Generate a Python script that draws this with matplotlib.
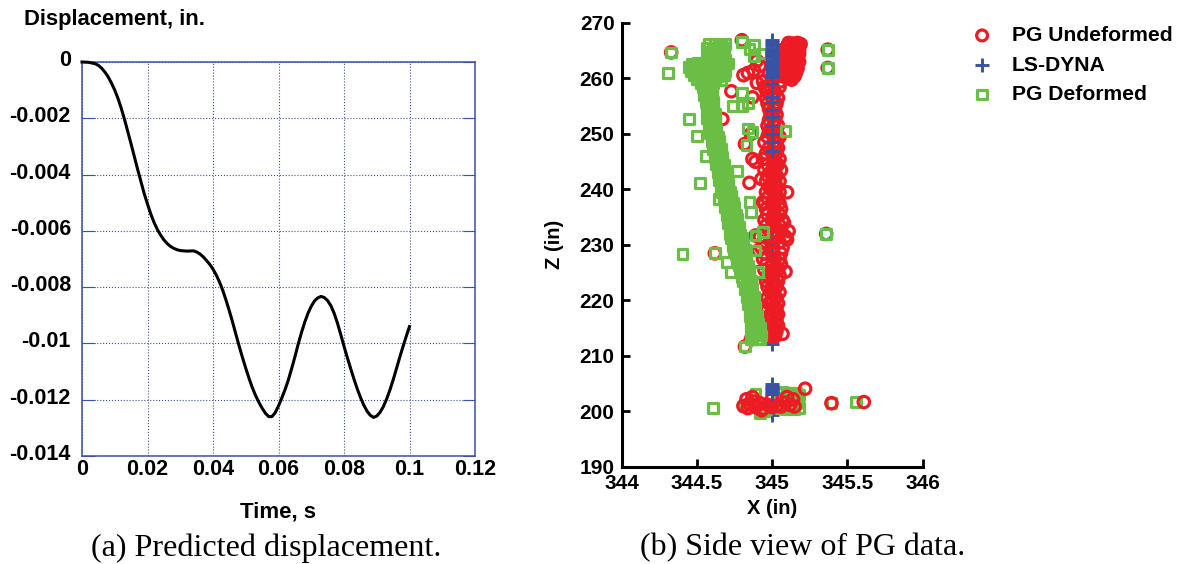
import matplotlib
matplotlib.use("Agg")
import matplotlib.pyplot as plt
from matplotlib.transforms import ScaledTranslation

W, H = 1182, 564
BLUE = "#3953a4"
RED = "#ed1c24"
GREEN = "#6abd45"

# (a) predicted displacement
time_s = [0, .002, .004, .005, .006, .007, .008, .009, .010, .011, .012, .013, .014, .015, .016, .017,
          .018, .019, .020, .021, .022, .023, .024, .025, .026, .027, .028, .029, .030, .032, .034,
          .035, .036, .037, .038, .039, .040, .041, .042, .043, .044, .045, .046, .047, .048, .049,
          .050, .051, .052, .053, .054, .055, .056, .057, .058, .059, .060, .061, .062, .063, .064,
          .065, .066, .067, .068, .069, .070, .071, .072, .073, .074, .075, .076, .077, .078, .079,
          .080, .081, .082, .083, .084, .085, .086, .087, .088, .089, .090, .091, .092, .093, .094,
          .095, .096, .097, .098, .099, .100]
disp_in = [0, -.00001, -.00006, -.00012, -.00022, -.00036, -.00053, -.00075, -.00100, -.00130,
           -.00165, -.00205, -.00248, -.00292, -.00337, -.00382, -.00425, -.00468, -.00505, -.00540,
           -.00570, -.00595, -.00615, -.00632, -.00645, -.00655, -.00662, -.00667, -.00670, -.00672,
           -.00671, -.00675, -.00682, -.00692, -.00705, -.00719, -.00736, -.00757, -.00782, -.00812,
           -.00847, -.00885, -.00925, -.00968, -.01010, -.01050, -.01088, -.01124, -.01157, -.01185,
           -.01209, -.01230, -.01248, -.01260, -.01260, -.01246, -.01222, -.01194, -.01164, -.01130,
           -.01090, -.01048, -.01003, -.00962, -.00925, -.00893, -.00868, -.00849, -.00838, -.00833,
           -.00837, -.00848, -.00866, -.00893, -.00928, -.00968, -.01010, -.01050, -.01088, -.01125,
           -.01160, -.01191, -.01218, -.01240, -.01255, -.01263, -.01258, -.01245, -.01225, -.01198,
           -.01166, -.01130, -.01090, -.01050, -.01012, -.00975, -.00940]

x_ticks_a = [0, .02, .04, .06, .08, .1, .12]
x_labels_a = ["0", "0.02", "0.04", "0.06", "0.08", "0.1", "0.12"]
y_ticks_a = [0, -.002, -.004, -.006, -.008, -.01, -.012, -.014]
y_labels_a = ["0", "-0.002", "-0.004", "-0.006", "-0.008", "-0.01", "-0.012", "-0.014"]

# (b) side view of PG data
# main green band, one left/mid/right reading per height
band_g_z = [213.0, 213.7, 214.4, 215.1, 215.8, 216.5, 217.2, 217.9, 218.6, 219.3, 220.0, 220.7, 221.4, 222.1,
            222.8, 223.5, 224.2, 224.9, 225.6, 226.3, 227.0, 227.7, 228.4, 229.1, 229.8, 230.5, 231.2, 231.9,
            232.6, 233.3, 234.0, 234.7, 235.4, 236.1, 236.8, 237.5, 238.2, 238.9, 239.6, 240.3, 241.0, 241.7,
            242.4, 243.1, 243.8, 244.5, 245.2, 245.9, 246.6, 247.3, 248.0, 248.7, 249.4, 250.1, 250.8, 251.5,
            252.2, 252.9, 253.6, 254.3, 255.0, 255.7, 256.4, 257.1, 257.8, 258.5, 259.2]
band_g_l = [344.87, 344.87, 344.86, 344.87, 344.86, 344.86, 344.85, 344.86, 344.85, 344.84, 344.85, 344.83, 344.84, 344.82,
            344.83, 344.81, 344.80, 344.81, 344.79, 344.78, 344.79, 344.77, 344.76, 344.75, 344.74, 344.74, 344.73, 344.72,
            344.73, 344.72, 344.71, 344.71, 344.70, 344.70, 344.69, 344.69, 344.68, 344.68, 344.67, 344.66, 344.66, 344.65,
            344.65, 344.64, 344.64, 344.63, 344.63, 344.62, 344.62, 344.61, 344.61, 344.60, 344.60, 344.59, 344.59, 344.58,
            344.58, 344.57, 344.58, 344.57, 344.57, 344.56, 344.56, 344.55, 344.55, 344.54, 344.53]
band_g_m = [344.90, 344.89, 344.89, 344.89, 344.88, 344.88, 344.87, 344.87, 344.87, 344.86, 344.86, 344.85, 344.85, 344.85,
            344.84, 344.83, 344.83, 344.83, 344.82, 344.81, 344.81, 344.80, 344.79, 344.78, 344.78, 344.77, 344.76, 344.76,
            344.75, 344.75, 344.74, 344.74, 344.73, 344.72, 344.72, 344.71, 344.71, 344.70, 344.70, 344.69, 344.68, 344.68,
            344.67, 344.67, 344.66, 344.66, 344.65, 344.65, 344.64, 344.64, 344.63, 344.63, 344.62, 344.62, 344.61, 344.61,
            344.60, 344.60, 344.60, 344.59, 344.59, 344.58, 344.58, 344.58, 344.57, 344.57, 344.57]
band_g_r = [344.92, 344.93, 344.91, 344.92, 344.91, 344.90, 344.90, 344.89, 344.89, 344.88, 344.87, 344.88, 344.87, 344.87,
            344.86, 344.86, 344.85, 344.85, 344.84, 344.84, 344.83, 344.83, 344.82, 344.82, 344.81, 344.80, 344.80, 344.79,
            344.78, 344.78, 344.77, 344.77, 344.76, 344.75, 344.75, 344.74, 344.73, 344.73, 344.72, 344.71, 344.71, 344.70,
            344.70, 344.69, 344.68, 344.68, 344.67, 344.67, 344.66, 344.66, 344.65, 344.65, 344.64, 344.63, 344.63, 344.62,
            344.62, 344.62, 344.62, 344.61, 344.61, 344.61, 344.60, 344.60, 344.60, 344.60, 344.61]

# green patch at the top of the column
top_g_x = [344.58, 344.62, 344.66, 344.69, 344.57, 344.61, 344.65, 344.68, 344.59, 344.63, 344.67, 344.60, 344.64, 344.68,
           344.57, 344.61, 344.65, 344.69, 344.47, 344.51, 344.55, 344.59, 344.63, 344.67, 344.71, 344.45, 344.49,
           344.53, 344.57, 344.61, 344.65, 344.69, 344.46, 344.50, 344.54, 344.58, 344.62, 344.66, 344.69, 344.48,
           344.52, 344.56, 344.60, 344.64, 344.68, 344.50, 344.54, 344.58, 344.62, 344.66]
top_g_z = [266.2, 266.3, 266.1, 266.2, 265.5, 265.6, 265.4, 265.5, 264.8, 264.9, 264.7, 264.1, 264.0, 264.2,
           263.4, 263.3, 263.5, 263.4, 262.7, 262.8, 262.6, 262.7, 262.8, 262.6, 262.7, 262.0, 262.1,
           261.9, 262.0, 262.1, 261.9, 262.0, 261.3, 261.2, 261.4, 261.3, 261.2, 261.4, 261.3, 260.6,
           260.5, 260.7, 260.6, 260.5, 260.7, 259.9, 259.8, 260.0, 259.9, 259.8]

# loose green squares
loose_g_x = [344.33, 344.31, 344.80, 344.88, 344.84, 344.45, 344.50, 344.52, 344.56, 344.74, 344.80, 344.80, 344.84, 344.87,
             344.83, 344.77, 344.65, 344.85, 344.86, 344.94, 344.89, 344.405, 344.70, 344.73, 344.82, 344.86, 344.91,
             344.89, 344.85, 345.37, 345.37, 345.36, 344.93, 344.88, 345.09, 344.62]
loose_g_z = [264.7, 261.0, 266.6, 266.0, 255.6, 252.7, 249.7, 241.2, 246.0, 255.0, 255.0, 257.4, 251.0, 250.3,
             248.0, 243.3, 238.3, 237.8, 236.0, 232.3, 231.7, 228.4, 226.9, 225.1, 211.7, 213.0, 225.1,
             229.0, 265.3, 265.2, 261.9, 232.0, 264.5, 264.0, 250.6, 228.6]

# green cluster round z = 201
low_g_x = [344.61, 344.89, 344.92, 344.95, 345.04, 345.07, 345.10, 345.13, 345.16, 345.18, 345.05, 345.08, 345.11, 345.14,
           345.17, 345.04, 345.07, 345.10, 345.13, 345.16, 345.06, 345.09, 345.12, 345.15, 345.18, 344.85, 344.89,
           344.93, 344.96, 344.99, 345.02, 345.395, 345.56, 344.82]
low_g_z = [200.7, 203.2, 199.8, 200.0, 203.4, 203.5, 203.4, 203.3, 203.4, 203.0, 202.4, 202.5, 202.3, 202.5,
           202.4, 201.5, 201.4, 201.6, 201.4, 201.5, 200.6, 200.5, 200.7, 200.5, 200.6, 201.0, 201.4,
           200.6, 200.4, 201.2, 200.8, 201.5, 201.7, 201.0]

# main red column
band_r_z = [213.5, 214.5, 215.5, 216.5, 217.5, 218.5, 219.5, 220.5, 221.5, 222.5, 223.5, 224.5, 225.5, 226.5, 227.5,
            228.5, 229.5, 230.5, 231.5, 232.5, 233.5, 234.5, 235.5, 236.5, 237.5, 238.5, 239.5, 240.5, 241.5, 242.5,
            243.5, 244.5, 245.5, 246.5, 247.5, 248.5, 249.5, 250.5, 251.5, 252.5, 253.5, 254.5, 255.5, 256.5, 257.5,
            258.5, 259.5]
band_r_l = [344.98, 344.97, 344.99, 344.98, 344.99, 344.97, 344.98, 344.97, 344.99, 344.97, 344.96, 344.97, 344.95, 344.96, 344.94,
            344.95, 344.93, 344.94, 344.92, 344.95, 344.96, 344.95, 344.97, 344.96, 344.95, 344.97, 344.96, 344.98, 344.96, 344.97,
            344.95, 344.97, 344.94, 344.96, 344.98, 344.95, 344.97, 344.98, 344.97, 344.98, 344.99, 344.98, 344.97, 344.96, 344.97,
            344.95, 344.94]
band_r_m = [345.00, 345.01, 345.02, 345.00, 345.02, 345.01, 345.00, 345.02, 345.01, 345.00, 345.01, 345.00, 345.01, 345.00, 345.02,
            345.00, 345.01, 345.00, 345.02, 345.01, 345.02, 345.00, 345.01, 345.02, 345.00, 345.02, 345.01, 345.00, 345.02, 345.01,
            345.00, 345.02, 345.01, 345.00, 345.02, 345.01, 345.02, 345.00, 345.01, 345.02, 345.00, 345.01, 345.02, 345.00, 345.01,
            344.99, 345.00]
band_r_r = [345.02, 345.03, 345.04, 345.03, 345.04, 345.03, 345.04, 345.03, 345.05, 345.03, 345.04, 345.05, 345.04, 345.06, 345.05,
            345.06, 345.07, 345.05, 345.09, 345.06, 345.05, 345.07, 345.05, 345.06, 345.05, 345.04, 345.05, 345.03, 345.05, 345.03,
            345.06, 345.04, 345.05, 345.03, 345.04, 345.03, 345.05, 345.03, 345.04, 345.02, 345.03, 345.02, 345.03, 345.04, 345.02,
            345.05, 345.06]

# solid red cap at the top
top_r_x = [345.11, 345.14, 345.17, 345.19, 345.10, 345.13, 345.16, 345.18, 345.07, 345.10, 345.13, 345.16, 345.18, 345.06, 345.09,
           345.12, 345.15, 345.18, 345.08, 345.11, 345.14, 345.17, 345.06, 345.09, 345.12, 345.15, 345.18, 345.07, 345.10, 345.13,
           345.16, 345.05, 345.08, 345.11, 345.14, 345.17, 345.07, 345.10, 345.13, 345.16, 345.06, 345.09, 345.12, 345.15]
top_r_z = [266.4, 266.3, 266.4, 266.2, 265.8, 265.7, 265.8, 265.6, 265.1, 265.2, 265.0, 265.1, 265.0, 264.5, 264.4,
           264.5, 264.3, 264.4, 263.8, 263.7, 263.9, 263.7, 263.2, 263.1, 263.0, 263.2, 263.0, 262.5, 262.4, 262.6,
           262.4, 261.9, 261.8, 261.9, 261.7, 261.8, 261.1, 261.2, 261.0, 261.1, 260.5, 260.4, 260.3, 260.4]

# loose red circles
loose_r_x = [344.33, 344.80, 344.73, 344.67, 344.85, 344.82, 344.87, 344.81, 344.84, 344.88, 344.92, 344.90, 344.96, 344.87,
             344.89, 344.86, 344.89, 345.37, 345.37, 345.36, 344.62, 345.09, 345.07, 344.91, 344.82, 344.86, 344.91, 344.94,
             344.93, 344.98, 344.90, 345.13, 345.11, 345.10, 345.10, 345.08]
loose_r_z = [264.7, 266.9, 257.7, 252.7, 241.2, 248.2, 256.6, 260.6, 261.0, 261.5, 262.3, 259.2, 258.0, 245.5,
             245.0, 250.0, 231.7, 265.2, 261.9, 232.0, 228.5, 225.2, 214.0, 225.1, 211.7, 213.0, 229.0, 237.7,
             241.9, 261.0, 263.2, 259.8, 232.5, 231.0, 239.5, 234.0]

# red circles round z = 201
low_r_x = [344.81, 344.83, 344.85, 344.87, 344.89, 344.92, 344.94, 344.97, 345.00, 345.00, 345.03, 345.06, 345.09, 345.12, 345.15,
           345.10, 345.14, 345.22, 345.395, 345.61, 344.84, 344.88, 344.93]
low_r_z = [201.0, 202.2, 201.4, 202.6, 200.8, 201.5, 200.5, 201.2, 200.8, 202.3, 201.0, 200.9, 201.6, 201.2, 200.9,
           202.6, 202.2, 204.1, 201.5, 201.7, 200.6, 201.8, 200.2]

# LS-DYNA column: solid near the top, spaced further down
dyna_z_top = [267.0, 266.6, 266.2, 265.8, 265.4, 265.0, 264.6, 264.2, 263.8, 263.4, 263.0, 262.6, 262.2, 261.8, 261.4, 261.0,
              260.6, 260.2, 259.0, 256.6, 255.8, 254.4, 253.0, 251.5, 250.0, 248.5, 247.0]
dyna_x_top = [345.0] * len(dyna_z_top)
dyna_z_low = [245.0, 243.4, 242.2, 240.8, 239.4, 238.2, 236.8, 235.4, 234.0, 232.8, 231.4, 230.0, 228.8, 227.4, 226.0, 224.6,
              223.4, 222.0, 220.6, 219.4, 218.0, 216.6, 215.4, 214.0, 213.6, 212.8, 212.2, 201.8, 200.8, 199.8, 199.4]
dyna_x_low = [345.0] * len(dyna_z_low)
dyna_z_mid = [205.0, 204.6, 204.3, 204.0, 203.7, 203.4, 203.1]
dyna_x_mid = [345.0] * len(dyna_z_mid)

x_ticks_b = [344, 344.5, 345, 345.5, 346]
x_labels_b = ["344", "344.5", "345", "345.5", "346"]
y_ticks_b = [190, 200, 210, 220, 230, 240, 250, 260, 270]


def add_axes_px(x0, y0, x1, y1):
    # pixel box measured from the top left of the picture
    return fig.add_axes([x0 / W, 1 - y1 / H, (x1 - x0) / W, (y1 - y0) / H])


plt.rcParams["font.family"] = ["Liberation Sans", "DejaVu Sans"]
fig = plt.figure(figsize=(W / 100, H / 100), dpi=100)

# left panel
ax = add_axes_px(82, 62, 475, 456)
ax.set_xlim(0, 0.12)
ax.set_ylim(-0.014, 0)
ax.set_xticks(x_ticks_a, x_labels_a)
ax.set_yticks(y_ticks_a, y_labels_a)
ax.grid(True, color=BLUE, linestyle=":", linewidth=0.8)
ax.set_axisbelow(True)
ax.plot(time_s, disp_in, color="black", linewidth=2.2, clip_on=False, zorder=5)
for s in ax.spines.values():
    s.set_color(BLUE)
    s.set_linewidth(1.1)
ax.tick_params(axis="x", length=0, labelsize=15.5, pad=2)
ax.tick_params(axis="y", direction="in", length=9, color=BLUE, right=True, labelsize=15.5, pad=8)
lift = ScaledTranslation(0, 4 / 100, fig.dpi_scale_trans)
for lab in ax.get_xticklabels() + ax.get_yticklabels():
    lab.set_fontweight("bold")
for lab in ax.get_yticklabels():
    lab.set_transform(lab.get_transform() + lift)
fig.text(24 / W, 1 - 20 / H, "Displacement, in.", fontsize=15.8, fontweight="bold", va="center")
fig.text(278 / W, 1 - 512 / H, "Time, s", fontsize=16, fontweight="bold", ha="center", va="center")

# right panel
bx = add_axes_px(621.5, 23, 922.5, 467)
bx.set_xlim(344, 346)
bx.set_ylim(190, 270)
bx.set_xticks(x_ticks_b, x_labels_b)
bx.set_yticks(y_ticks_b)
for name in ("top", "right"):
    bx.spines[name].set_visible(False)
for name in ("left", "bottom"):
    bx.spines[name].set_linewidth(2.2)
bx.tick_params(axis="both", direction="in", length=6, width=2, labelsize=15, pad=5)
for lab in bx.get_xticklabels() + bx.get_yticklabels():
    lab.set_fontweight("bold")

plus_style = dict(marker="+", s=100, color=BLUE, linewidths=2.1)
ring_style = dict(marker="o", s=68, facecolors="none", edgecolors=RED, linewidths=2.3, clip_on=False)
box_style = dict(marker="s", s=50, facecolors="none", edgecolors=GREEN, linewidths=2.3, clip_on=False)

bx.scatter(dyna_x_low, dyna_z_low, zorder=2, **plus_style)
bx.scatter(band_r_l, band_r_z, zorder=3, **ring_style)
bx.scatter(band_r_m, band_r_z, zorder=3, **ring_style)
bx.scatter(band_r_r, band_r_z, zorder=3, **ring_style)
bx.scatter(top_r_x, top_r_z, zorder=3, **ring_style)
red = bx.scatter(loose_r_x, loose_r_z, zorder=3, **ring_style)
bx.scatter(band_g_l, band_g_z, zorder=4, **box_style)
bx.scatter(band_g_m, band_g_z, zorder=4, **box_style)
bx.scatter(band_g_r, band_g_z, zorder=4, **box_style)
bx.scatter(top_g_x, top_g_z, zorder=4, **box_style)
bx.scatter(low_g_x, low_g_z, zorder=4, **box_style)
green = bx.scatter(loose_g_x, loose_g_z, zorder=4, **box_style)
# in the low cluster the circles lie over the squares
bx.scatter(low_r_x, low_r_z, zorder=4.5, **ring_style)
blue = bx.scatter(dyna_x_top, dyna_z_top, zorder=5, **plus_style)
bx.scatter(dyna_x_mid, dyna_z_mid, zorder=5, **plus_style)

bx.set_xlabel("X (in)", fontsize=14.5, fontweight="bold", labelpad=4)
fig.text(555 / W, 1 - 244 / H, "Z (in)", fontsize=14.5, fontweight="bold", rotation=90, ha="center", va="center")

leg = bx.legend([red, blue, green], ["PG Undeformed", "LS-DYNA", "PG Deformed"], frameon=False,
                loc="upper left", bbox_to_anchor=(961 / W, 1 - 26 / H), bbox_transform=fig.transFigure,
                prop={"size": 15.2, "weight": "bold"}, labelspacing=0.5, handletextpad=0.42,
                borderpad=0, borderaxespad=0, markerscale=0.95)

# captions
fig.text(266 / W, 1 - 548 / H, "(a) Predicted displacement.", family="Liberation Serif", fontsize=23.1,
         ha="center", va="center")
fig.text(803 / W, 1 - 548 / H, "(b) Side view of PG data.", family="Liberation Serif", fontsize=23,
         ha="center", va="center")

fig.savefig("out.png", dpi=100)
